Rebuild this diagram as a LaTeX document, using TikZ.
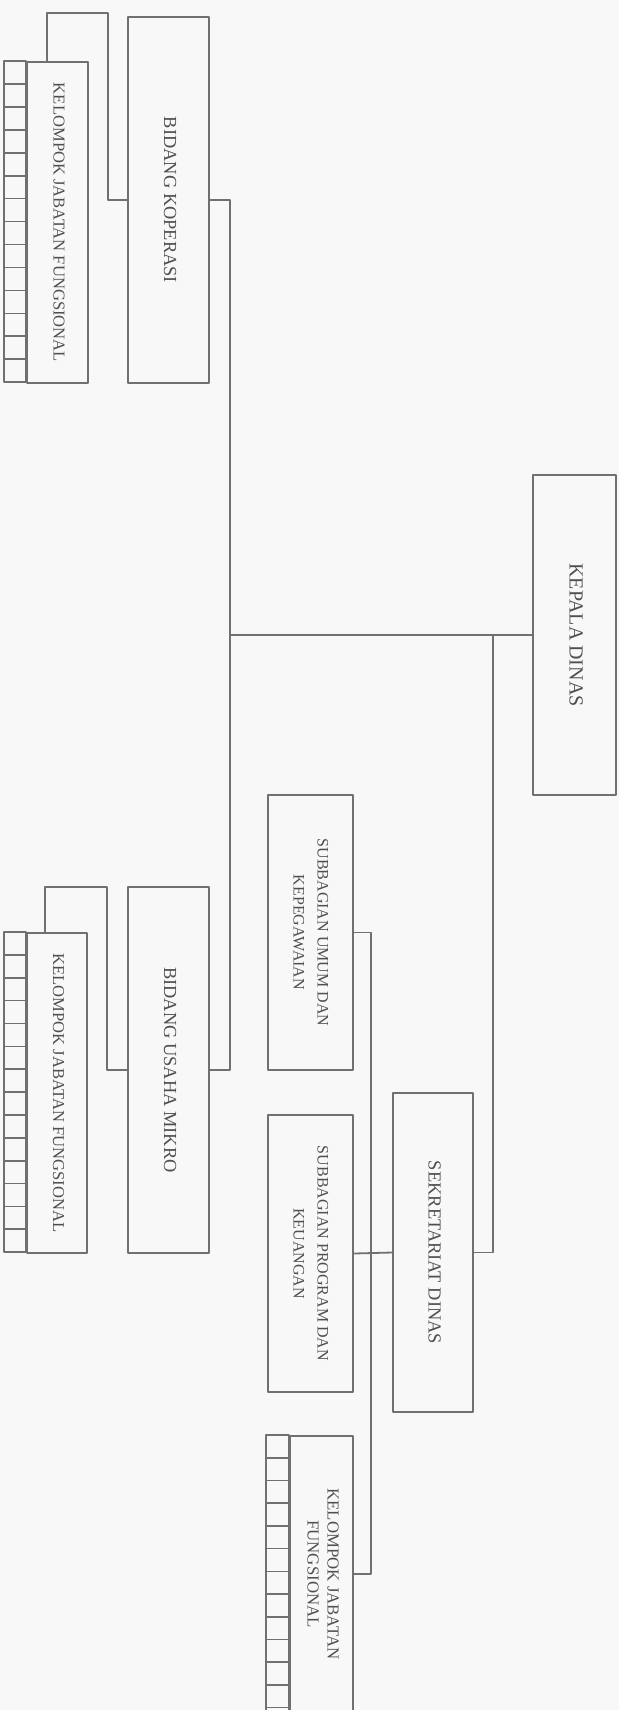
\documentclass[tikz,border=0pt]{standalone}
\usepackage{fontspec}
\setmainfont{Liberation Serif}
\usepackage{graphicx}
\usetikzlibrary{calc}
\definecolor{linegray}{RGB}{112,112,112}
\definecolor{textgray}{RGB}{80,80,80}
\definecolor{paper}{RGB}{248,248,248}
% text that reads from top to bottom
\newcommand{\vlabel}[1]{\rotatebox{-90}{\begin{tabular}{@{}c@{}}#1\end{tabular}}}
\begin{document}
\begin{tikzpicture}[x=0.5pt, y=-0.5pt, line join=round,
  box/.style={draw=linegray, line width=0.9pt, fill=paper, inner sep=0pt, text=textgray},
  link/.style={draw=linegray, line width=0.9pt},
  strip/.style={draw=linegray, line width=0.8pt}]
  \useasboundingbox (0,0) rectangle (619,1710);
  \clip (0,0) rectangle (619,1710);
  \fill[paper] (0,0) rectangle (619,1710);
  \coordinate (trunk) at (230,0);
  \coordinate (sekbr) at (493,0);
  \coordinate (subbr) at (371,0);
  \coordinate (kjftop1) at (47,13);
  \coordinate (kjftop2) at (45,887);
  % back connectors to the kelompok boxes
  \draw[link] (168.5,200) -- (108,200) |- (kjftop1) -- (47,62);
  \draw[link] (168.5,1070) -- (107,1070) |- (kjftop2) -- (45,933);
  % boxes
  \node[box, minimum width=41.5pt, minimum height=160pt, font=\fontsize{10}{12}\selectfont] (kepala) at (574.5,635) {\vlabel{KEPALA DINAS}};
  \node[box, minimum width=40.5pt, minimum height=183pt, font=\fontsize{9.2}{11}\selectfont] (kop) at (168.5,200) {\vlabel{BIDANG KOPERASI}};
  \node[box, minimum width=40.5pt, minimum height=183pt, font=\fontsize{9.2}{11}\selectfont] (mikro) at (168.5,1070) {\vlabel{BIDANG USAHA MIKRO}};
  \node[box, minimum width=40pt, minimum height=159.5pt, font=\fontsize{9.2}{11}\selectfont] (sekre) at (433,1252.5) {\vlabel{SEKRETARIAT DINAS}};
  \node[box, minimum width=42.5pt, minimum height=137.5pt, font=\fontsize{8}{12}\selectfont] (umum) at (310.5,932.5) {\vlabel{SUBBAGIAN UMUM DAN\\KEPEGAWAIAN}};
  \node[box, minimum width=42.5pt, minimum height=138.5pt, font=\fontsize{8}{12}\selectfont] (prog) at (310.5,1253.5) {\vlabel{SUBBAGIAN PROGRAM DAN\\KEUANGAN}};
  \node[box, minimum width=30.5pt, minimum height=160.5pt, font=\fontsize{8.3}{10}\selectfont] (kjf1) at (57.5,222.5) {\vlabel{KELOMPOK JABATAN FUNGSIONAL}};
  \node[box, minimum width=30pt, minimum height=160pt, font=\fontsize{8.3}{10}\selectfont] (kjf2) at (57,1093) {\vlabel{KELOMPOK JABATAN FUNGSIONAL}};
  \node[box, minimum width=31.5pt, minimum height=138pt, font=\fontsize{8.4}{10}\selectfont] (kjf3) at (321.5,1574) {\vlabel{KELOMPOK JABATAN\\FUNGSIONAL}};
  % cell strips
  \draw[strip] (kjf1.north west) rectangle ++(-22,321);
  \foreach \i in {1,...,13} \draw[strip] ($(kjf1.north west)+(-22,\i*22.93)$) -- ++(22,0);
  \draw[strip] (kjf2.north west) rectangle ++(-22,320);
  \foreach \i in {1,...,13} \draw[strip] ($(kjf2.north west)+(-22,\i*22.86)$) -- ++(22,0);
  \draw[strip] (kjf3.north west) rectangle ++(-23,280);
  \foreach \i in {1,...,12} \draw[strip] ($(kjf3.north west)+(-23,\i*22.7)$) -- ++(23,0);
  % connectors
  \draw[link] (kop.east) -| (trunk |- mikro.east) -- (mikro.east);
  \draw[link] (kepala.west) -- (kepala.west -| trunk);
  \draw[link] (kepala.west -| sekbr) |- (sekre.east);
  \draw[link] (sekre.west) -- (prog.east);
  \draw[link] (umum.east) -| (subbr |- kjf3.east) -- (kjf3.east);
\end{tikzpicture}
\end{document}
